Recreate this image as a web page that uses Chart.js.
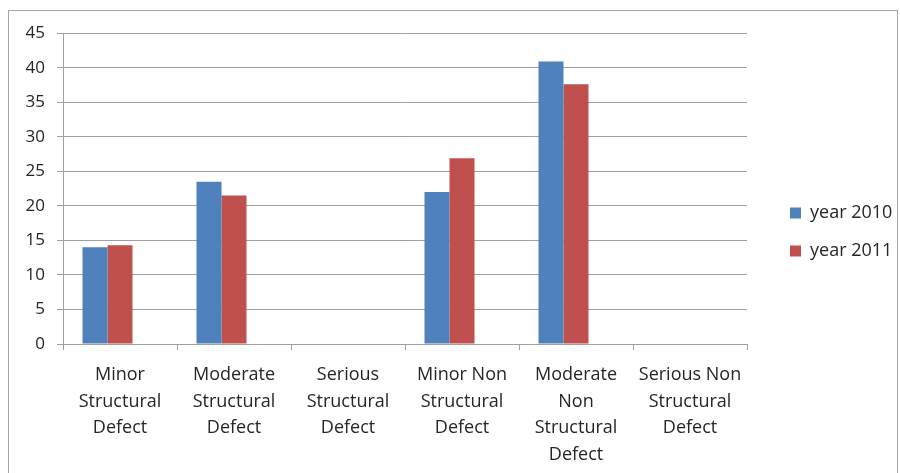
<!DOCTYPE html>
<html>
<head>
<meta charset="utf-8">
<script src="https://cdn.jsdelivr.net/npm/chart.js@4.4.1/dist/chart.umd.min.js"></script>
<style>
  html, body { margin: 0; padding: 0; background: #fff; overflow: hidden; }
  #frame {
    position: absolute; left: 8px; top: 10px;
    width: 890px; height: 475px;
    box-sizing: border-box; border: 1px solid #a6a6a6;
  }
  #frame canvas { display: block; }
</style>
</head>
<body>
<div id="frame"><canvas id="defects"></canvas></div>
<script>
// categories (multi-line labels as in the original)
const categories = [
    ["Minor", "Structural", "Defect"],
    ["Moderate", "Structural", "Defect"],
    ["Serious", "Structural", "Defect"],
    ["Minor Non", "Structural", "Defect"],
    ["Moderate", "Non", "Structural", "Defect"],
    ["Serious Non", "Structural", "Defect"],
];
const year2010 = [14.0, 23.5, 0, 22.0, 40.9, 0];
const year2011 = [14.3, 21.5, 0, 26.9, 37.6, 0];
const yTicks = { min: 0, max: 45, step: 5 };

const textColor = "#262626";
const gridColor = "#a0a0a0";

Chart.defaults.font.family = "'Open Sans', sans-serif";
Chart.defaults.font.size = 17;
Chart.defaults.color = textColor;

const ctx = document.getElementById("defects").getContext("2d");
new Chart(ctx, {
    type: "bar",
    data: {
        labels: categories,
        datasets: [
            { label: "year 2010", data: year2010, backgroundColor: "#4f81bd" },
            { label: "year 2011", data: year2011, backgroundColor: "#c0504d" },
            // empty slot: Excel leaves room for a third bar, keeps the pair off-centre
            { label: "", data: [], backgroundColor: "rgba(0,0,0,0)" },
        ],
    },
    options: {
        responsive: true,
        maintainAspectRatio: false,
        animation: false,
        categoryPercentage: 0.658,
        barPercentage: 1,
        layout: { padding: { top: 21.5, left: 0, right: 0, bottom: 0 } },
        plugins: {
            tooltip: { enabled: false },
            legend: {
                position: "right",
                align: "start",
                maxWidth: 127,
                // empty title only pushes the items down to where Excel put them
                title: { display: true, text: "", font: { size: 18 }, padding: { top: 129.9, bottom: 0 } },
                labels: {
                    boxWidth: 11,
                    boxHeight: 11,
                    padding: 20,
                    color: textColor,
                    font: { size: 18 },
                    filter: (item) => item.text !== "",
                },
            },
        },
        scales: {
            x: {
                grid: { offset: true, drawOnChartArea: false, tickLength: 6, color: gridColor },
                border: { color: gridColor },
                ticks: { padding: 12, maxRotation: 0, autoSkip: false, font: { size: 18, lineHeight: 1.47 } },
                afterFit: (s) => { s.height = 140; },
            },
            y: {
                min: yTicks.min,
                max: yTicks.max,
                grid: { color: gridColor, tickLength: 6 },
                border: { color: gridColor },
                ticks: { stepSize: yTicks.step, padding: 12 },
                afterFit: (s) => { s.width = 54; },
            },
            gap: {
                type: "linear",
                position: "right",
                grid: { display: false },
                border: { display: false },
                ticks: { display: false },
                afterFit: (s) => { s.width = 23; },
            },
        },
    },
});
</script>
</body>
</html>
